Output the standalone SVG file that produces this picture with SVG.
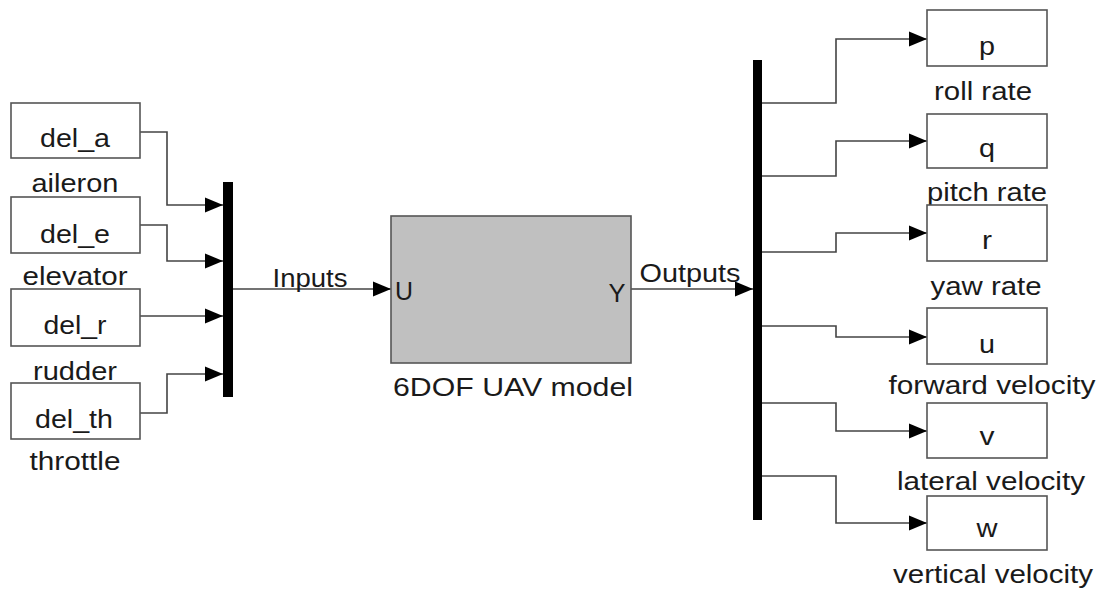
<svg xmlns="http://www.w3.org/2000/svg" width="1102" height="590" viewBox="0 0 1102 590">
<style>
.blk{fill:#ffffff;stroke:#555555;stroke-width:1.6}
.sys{fill:#c0c0c0;stroke:#555555;stroke-width:1.6}
.bar{fill:#000000}
.t{font-family:"Liberation Sans",Arial,sans-serif;font-size:26px;fill:#1a1a1a;text-anchor:middle}
.c{fill:none;stroke:#444444;stroke-width:1.6;marker-end:url(#ah)}
</style>
<defs>
<marker id="ah" markerUnits="userSpaceOnUse" markerWidth="18" markerHeight="16" refX="18" refY="8" orient="auto">
<path d="M0,0.5 L18,8 L0,15.5 z" fill="#000000"/>
</marker>
</defs>
<rect width="1102" height="590" fill="#ffffff"/>

<g id="connectors">
<path class="c" d="M140,132 H167 V205 H223"/>
<path class="c" d="M140,225 H167 V261 H223"/>
<path class="c" d="M140,316 H223"/>
<path class="c" d="M140,413 H167 V374 H223"/>
<path class="c" d="M233,289 H391"/>
<path class="c" d="M631,289 H753"/>
<path class="c" d="M762,103 H836 V39 H927"/>
<path class="c" d="M762,176 H836 V141 H927"/>
<path class="c" d="M762,252 H836 V233 H927"/>
<path class="c" d="M762,326 H836 V337 H927"/>
<path class="c" d="M762,403 H836 V431 H927"/>
<path class="c" d="M762,476 H836 V523 H927"/>
</g>

<g id="del_a">
<rect class="blk" x="11" y="103" width="129" height="55"/>
<text class="t" x="75" y="147" textLength="70" lengthAdjust="spacingAndGlyphs">del_a</text>
<text class="t" x="75" y="192" textLength="87" lengthAdjust="spacingAndGlyphs">aileron</text>
</g>
<g id="del_e">
<rect class="blk" x="11" y="197" width="129" height="56"/>
<text class="t" x="75" y="243" textLength="70" lengthAdjust="spacingAndGlyphs">del_e</text>
<text class="t" x="75" y="285" textLength="105" lengthAdjust="spacingAndGlyphs">elevator</text>
</g>
<g id="del_r">
<rect class="blk" x="11" y="289" width="129" height="57"/>
<text class="t" x="75" y="334" textLength="63" lengthAdjust="spacingAndGlyphs">del_r</text>
<text class="t" x="75" y="380" textLength="84" lengthAdjust="spacingAndGlyphs">rudder</text>
</g>
<g id="del_th">
<rect class="blk" x="11" y="383" width="129" height="56"/>
<text class="t" x="74" y="428" textLength="78" lengthAdjust="spacingAndGlyphs">del_th</text>
<text class="t" x="75" y="470" textLength="91" lengthAdjust="spacingAndGlyphs">throttle</text>
</g>

<g id="mux">
<rect class="bar" x="223" y="182" width="10" height="215"/>
<text class="t" x="310" y="287" textLength="75" lengthAdjust="spacingAndGlyphs">Inputs</text>
</g>

<g id="uav_model">
<rect class="sys" x="391" y="216" width="240" height="147"/>
<text class="t" x="404" y="300" textLength="18" lengthAdjust="spacingAndGlyphs">U</text>
<text class="t" x="617" y="302" textLength="17" lengthAdjust="spacingAndGlyphs">Y</text>
<text class="t" x="513" y="396" textLength="240" lengthAdjust="spacingAndGlyphs">6DOF UAV model</text>
</g>

<g id="demux">
<rect class="bar" x="753" y="60" width="9" height="460"/>
<text class="t" x="690" y="282" textLength="101" lengthAdjust="spacingAndGlyphs">Outputs</text>
</g>

<g id="p">
<rect class="blk" x="927" y="10" width="120" height="56"/>
<text class="t" x="987" y="55" textLength="16" lengthAdjust="spacingAndGlyphs">p</text>
<text class="t" x="983" y="100" textLength="98" lengthAdjust="spacingAndGlyphs">roll rate</text>
</g>
<g id="q">
<rect class="blk" x="927" y="114" width="120" height="54"/>
<text class="t" x="987" y="157" textLength="16" lengthAdjust="spacingAndGlyphs">q</text>
<text class="t" x="987" y="201" textLength="120" lengthAdjust="spacingAndGlyphs">pitch rate</text>
</g>
<g id="r">
<rect class="blk" x="927" y="205" width="120" height="56"/>
<text class="t" x="987" y="249" textLength="10" lengthAdjust="spacingAndGlyphs">r</text>
<text class="t" x="986" y="295" textLength="111" lengthAdjust="spacingAndGlyphs">yaw rate</text>
</g>
<g id="u">
<rect class="blk" x="927" y="308" width="120" height="56"/>
<text class="t" x="987" y="353" textLength="16" lengthAdjust="spacingAndGlyphs">u</text>
<text class="t" x="992" y="394" textLength="207" lengthAdjust="spacingAndGlyphs">forward velocity</text>
</g>
<g id="v">
<rect class="blk" x="927" y="403" width="120" height="55"/>
<text class="t" x="987" y="445" textLength="15" lengthAdjust="spacingAndGlyphs">v</text>
<text class="t" x="991" y="490" textLength="188" lengthAdjust="spacingAndGlyphs">lateral velocity</text>
</g>
<g id="w">
<rect class="blk" x="927" y="496" width="120" height="54"/>
<text class="t" x="987" y="537" textLength="21" lengthAdjust="spacingAndGlyphs">w</text>
<text class="t" x="993" y="583" textLength="200" lengthAdjust="spacingAndGlyphs">vertical velocity</text>
</g>
</svg>
